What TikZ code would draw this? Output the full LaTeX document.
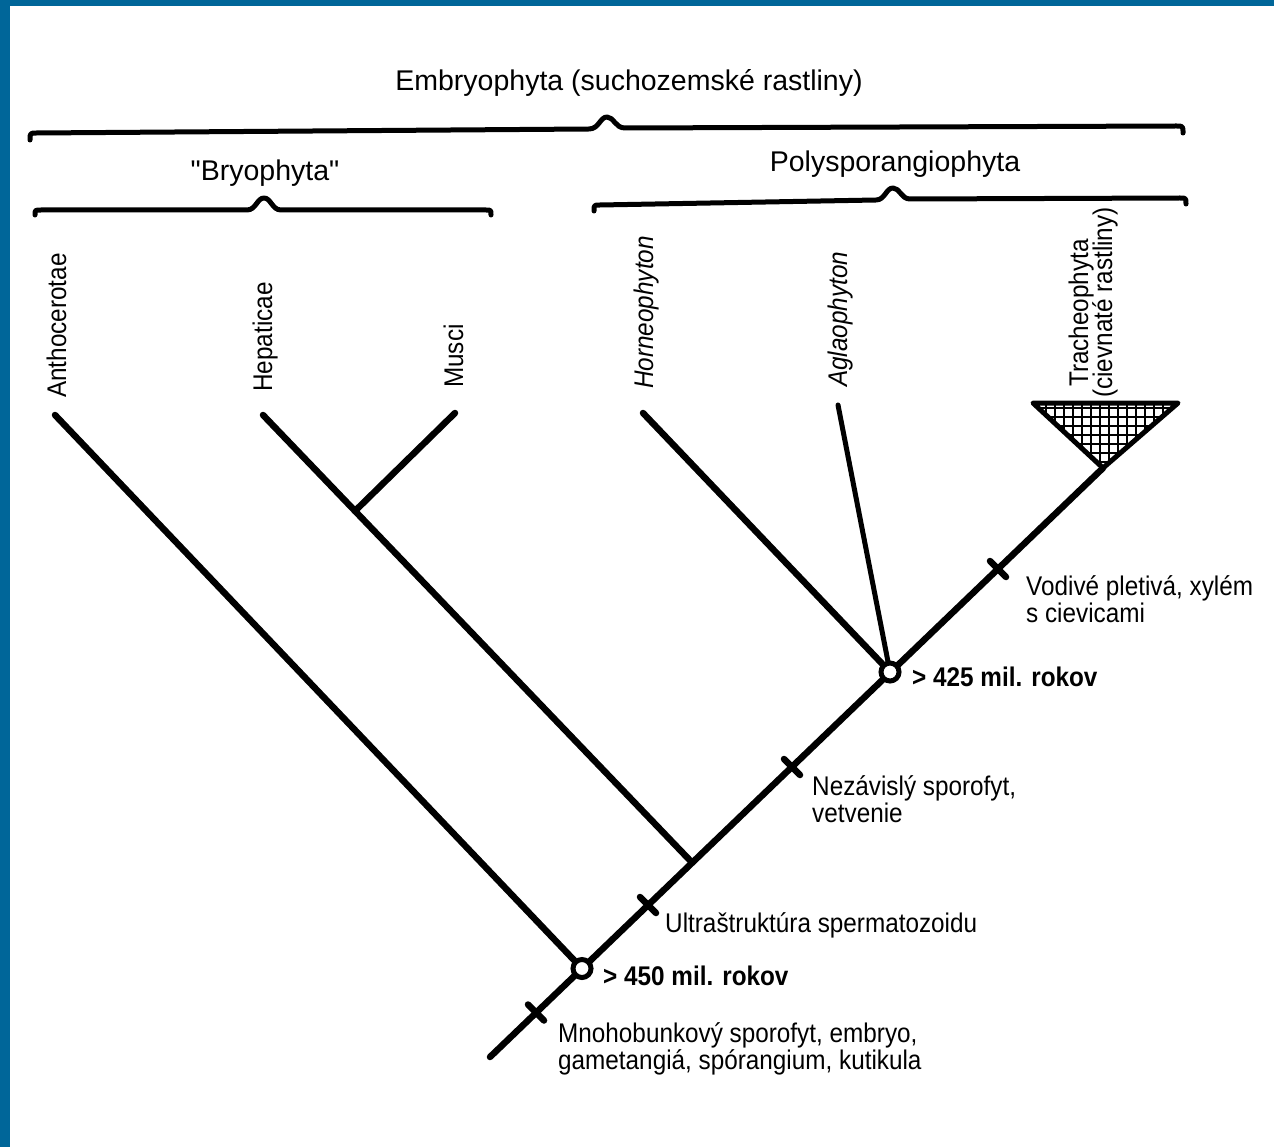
\documentclass[tikz,border=0pt]{standalone}
\usepackage{fontspec}
\setmainfont{Liberation Sans}
\newfontfamily\narf[FakeStretch=0.9]{Liberation Sans}
\newfontfamily\rawf[Ligatures=TeXOff]{Liberation Sans}
\definecolor{frameblue}{RGB}{0,102,153}
\begin{document}
\begin{tikzpicture}[x=1pt,y=-1pt,
  br/.style={line width=6.5pt, line cap=round, line join=round},
  thinbr/.style={line width=5pt, line cap=round},
  bracepath/.style={line width=5pt, line cap=round, line join=round},
  hatch/.style={line width=2.6pt},
  ttl/.style={font=\fontsize{28.5}{32}\selectfont, inner sep=0pt, anchor=base},
  lab/.style={font=\narf\fontsize{27}{25}\selectfont, align=left, inner sep=0pt, anchor=base west},
  age/.style={font=\narf\bfseries\fontsize{27}{25}\selectfont, inner sep=0pt, anchor=base west},
  vlab/.style={font=\narf\fontsize{27}{25}\selectfont, rotate=90, inner sep=0pt, anchor=base west},
  knot/.style={circle, draw, fill=white, line width=5pt, minimum size=18pt, inner sep=0pt}
]
\useasboundingbox (0,0) rectangle (1274,1147);
\fill[white] (0,0) rectangle (1274,1147);
\fill[frameblue] (0,0) rectangle (10,1147);
\fill[frameblue] (0,0) rectangle (1274,6);

% tree points
\coordinate (root) at (490,1057);
\coordinate (n450) at (582,968.5);
\coordinate (nH) at (692,862.5);
\coordinate (n425) at (890,672);
\coordinate (apex) at (1103,468);
\coordinate (tA) at (55,415);
\coordinate (tH) at (263,415);
\coordinate (tM) at (455,413);
\coordinate (nM) at (355,511);
\coordinate (tHo) at (643,413);
\coordinate (tAg) at (838,405);
\coordinate (triL) at (1033,403);
\coordinate (triR) at (1178,403);
\coordinate (m1) at (536,1012.5);
\coordinate (m2) at (648,905);
\coordinate (m3) at (792,767);
\coordinate (m4) at (998,569);

% braces
\draw[bracepath] (30,140) .. controls (30,133) .. (37,133) -- (589,129)
  .. controls (599,129) and (600,117) .. (607,117) .. controls (614,117) and (615,128) .. (625,128)
  -- (1176,126) .. controls (1183,126) .. (1183,133);
\draw[bracepath] (35,215) .. controls (35,210) .. (41,210) -- (247,210)
  .. controls (256,210) and (257,198) .. (264,198) .. controls (271,198) and (272,210) .. (281,210)
  -- (486,210) .. controls (491,210) .. (491,215);
\draw[bracepath] (594,211) .. controls (594,205) .. (600,205) -- (876,200)
  .. controls (885,200) and (886,188) .. (893,188) .. controls (900,188) and (901,199) .. (910,199)
  -- (1180,198) .. controls (1186,198) .. (1186,204);

% titles
\node[ttl] (emb) at (629,91) {Embryophyta (suchozemské rastliny)};
\node[ttl, font=\rawf\fontsize{28.5}{32}\selectfont] (bry) at (265,181) {"Bryophyta"};
\node[ttl] (poly) at (895,172) {Polysporangiophyta};

% taxon labels
\node[vlab] (lA) at (66,398) {Anthocerotae};
\node[vlab] (lH) at (272,392) {Hepaticae};
\node[vlab] (lM) at (463,388) {Musci};
\node[vlab, font=\narf\itshape\fontsize{27}{25}\selectfont] (lHo) at (653,389) {Horneophyton};
\node[vlab, font=\narf\itshape\fontsize{27}{25}\selectfont] (lAg) at (847,387) {Aglaophyton};
\node[vlab] (lT) at (1088,387) {Tracheophyta};
\node[vlab] (lT2) at (1112,398) {(cievnaté rastliny)};

% crosshatched triangle
\begin{scope}
  \clip (triL) -- (triR) -- (apex) -- cycle;
  \foreach \i in {0,...,18} \draw[hatch] (1028+\i*9,395) -- ++(0,90);
  \foreach \j in {0,...,9} \draw[hatch] (1020,399+\j*9) -- ++(170,0);
\end{scope}
\draw[line width=5pt, line join=round] (triL) -- (triR) -- (apex) -- cycle;

% branches
\draw[br] (root) -- (apex);
\draw[br] (tA) -- (n450);
\draw[br] (tH) -- (nH);
\draw[br] (tM) -- (nM);
\draw[br] (tHo) -- (n425);
\draw[thinbr] (tAg) -- (n425);

% character marks
\foreach \m in {m1,m2,m3,m4}
  \draw[br] (\m) ++(-8,-8) -- ++(16,16);

% nodes
\node[knot] (k450) at (n450) {};
\node[knot] (k425) at (n425) {};

% labels
\node[age] (a450) at (603,985) {> 450 mil. rokov};
\node[age] (a425) at (912,686) {> 425 mil. rokov};
\node[lab] (c1) at (558,1069) {Mnohobunkový sporofyt, embryo,\\gametangiá, spórangium, kutikula};
\node[lab] (c2) at (665,932) {Ultraštruktúra spermatozoidu};
\node[lab] (c3) at (812,822) {Nezávislý sporofyt,\\vetvenie};
\node[lab, font=\narf\fontsize{27}{23}\selectfont] (c4) at (1026,622) {Vodivé pletivá, xylém\\s cievicami};
\end{tikzpicture}
\end{document}
